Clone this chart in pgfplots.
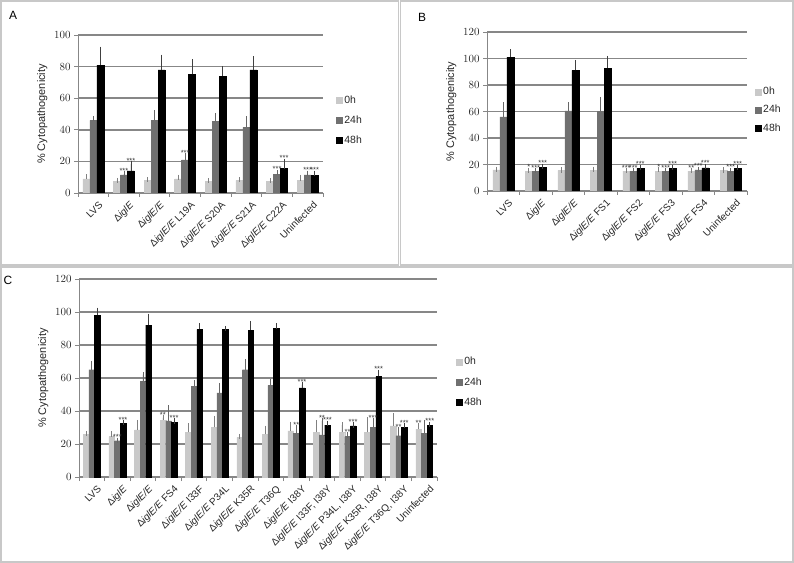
\documentclass[border=0pt]{standalone}
\usepackage{pgfplots}
\usepackage{pgfplotstable}
\pgfplotsset{compat=1.18}
\usepackage{fontspec}
\setmainfont{Liberation Sans}

\definecolor{c0}{HTML}{C9C9C9}
\definecolor{c24}{HTML}{707070}
\definecolor{c48}{HTML}{000000}
\definecolor{gridc}{HTML}{878787}
\definecolor{framec}{HTML}{C8C8C8}

\newcommand\dI{Δ\textit{iglE}}
\newcommand\dE{Δ\textit{iglE/E}}

\pgfplotstableread{
x y0 e0 s0 y24 e24 s24 y48 e48 s48
0 9 1.2 {} 46 1 {} 81 10 {}
1 7.5 0.5 {} 11.5 0.5 *** 14 4.5 ***
2 8 0.4 {} 46 5 {} 78 8 {}
3 9 1 {} 21 2.5 *** 75 8 {}
4 7.5 0.3 {} 45.5 3.5 {} 74 4.5 {}
5 8 0.3 {} 41.5 5.5 {} 78 7 {}
6 7.5 0.3 {} 12 1 *** 15.5 4.5 ***
7 8 1.5 {} 11.5 1 *** 11 1.5 ***
}\tabA

\pgfplotstableread{
x y0 e0 s0 y24 e24 s24 y48 e48 s48
0 16 0.5 {} 56 9 {} 101 4 {}
1 15 0.5 * 15 0.3 *** 18 0.5 ***
2 15.5 0.4 {} 60.5 4.5 {} 91 6 {}
3 15.5 1 {} 60 9 {} 92.5 7.5 {}
4 15 0.4 *** 15 0.3 *** 17 0.8 ***
5 15 1 * 15 0.3 *** 17 1 ***
6 15 0.4 ** 16 0.3 *** 17.5 1 ***
7 15.5 0.4 {} 15 0.5 *** 17 0.8 ***
}\tabB

\pgfplotstableread{
x y0 e0 s0 y24 e24 s24 y48 e48 s48
0 26 0.3 {} 65 4 {} 98 3 {}
1 24.5 1.5 {} 22 0.3 *** 32.5 0.3 ***
2 28.5 4.5 {} 58 4 {} 92 5.5 {}
3 34.5 1.5 ** 34 8 {} 33 1 ***
4 27 4 {} 55 2 {} 89.5 2 {}
5 30 5.5 {} 51 4.5 {} 89.5 0.5 {}
6 24 0.5 {} 65 5 {} 89 4 {}
7 26 3.5 {} 55.5 2.5 {} 90 1.5 {}
8 28 4 {} 26.5 3.5 ** 54 2 ***
9 27 6 {} 25.5 8.5 ** 31.5 1 ***
10 27 4.5 {} 24.5 1 ** 31 0.5 ***
11 27 7.5 {} 30 4 *** 61 2.5 ***
12 31 6 {} 25 3.5 ** 30 1 ***
13 29 2 ** 26.5 6.5 {} 31.5 0.5 ***
}\tabC

\pgfplotsset{
  panel/.style={
    scale only axis, axis lines*=left, ybar=0pt, ymin=0,
    xtick=data, tick align=outside,
    major tick length=4bp, minor tick length=4bp,
    major x tick style={draw=none},
    minor x tick style={gridc, line width=0.9bp},
    ytick style={gridc, line width=0.9bp},
    axis line style={gridc, line width=0.9bp},
    ymajorgrids, major grid style={gridc, line width=1.5bp},
    tick label style={font=\fontsize{10.5}{12}\selectfont, text=black!85},
    xticklabel style={xshift=5bp, yshift=-2bp, rotate=45, anchor=north east, inner sep=1pt,
      font=\fontsize{10}{12}\selectfont},
    ylabel={\% Cytopathogenicity},
    ylabel style={font=\fontsize{11}{12}\selectfont, text=black!85},
    legend style={draw=none, fill=none, anchor=west, font=\fontsize{10.5}{12}\selectfont, inner sep=0pt, row sep=7bp, text=black!85},
    legend cell align=left,
    legend image code/.code={\fill[##1,/tikz/.cd] (0bp,-2.9bp) rectangle (5.8bp,2.9bp);},
  },
  stars/.style={
    visualization depends on={\thisrow{#1} \as \myerr},
    point meta=explicit symbolic,
    nodes near coords={\pgfplotspointmeta},
    every node near coord/.append style={anchor=south, inner sep=0.3bp,
      font=\fontsize{7.5}{7.5}\selectfont, text=black!80, yshift={\myerr*\yscl*1bp}},
  },
  b0/.style={fill=c0, draw=c0, stars=e0, error bars/.cd, y dir=plus, y explicit,
    error bar style={black!50, line width=0.7bp}, error mark options={black!50, mark size=2.6bp, line width=0.7bp}},
  b24/.style={fill=c24, draw=c24, stars=e24, error bars/.cd, y dir=plus, y explicit,
    error bar style={black!60, line width=0.7bp}, error mark options={black!60, mark size=2.6bp, line width=0.7bp}},
  b48/.style={fill=c48, draw=c48, stars=e48, error bars/.cd, y dir=plus, y explicit,
    error bar style={black!75, line width=0.7bp}, error mark options={black!75, mark size=2.6bp, line width=0.7bp}},
}

\begin{document}
\begin{tikzpicture}
\useasboundingbox (0,0) rectangle (794bp,563bp);
\draw[framec, line width=1.3bp] (1bp,298bp) rectangle (398.5bp,562bp);
\draw[framec, line width=1.3bp] (400.5bp,298bp) rectangle (793bp,562bp);
\draw[framec, line width=1.3bp] (1bp,1bp) rectangle (793bp,296bp);
\node[font=\fontsize{12}{12}\selectfont] at (13bp,548bp) {A};
\node[font=\fontsize{12}{12}\selectfont] at (422bp,546bp) {B};
\node[font=\fontsize{12}{12}\selectfont] at (8bp,283bp) {C};

% Panel A
\def\yscl{1.58}
\begin{axis}[panel, at={(78bp,370bp)}, anchor=south west,
  width=245bp, height=158bp, xmin=-0.5, xmax=7.5, ymax=100,
  ytick={0,20,...,100}, minor xtick={-0.5,0.5,...,7.5}, bar width=7bp,
  xticklabels={LVS, \dI, \dE, \dE{} L19A, \dE{} S20A, \dE{} S21A, \dE{} C22A, Uninfected},
  legend style={at={(1.053,0.46)}}]
\addplot[b0] table[x=x, y=y0, y error=e0, meta=s0] {\tabA};
\addplot[b24] table[x=x, y=y24, y error=e24, meta=s24] {\tabA};
\addplot[b48] table[x=x, y=y48, y error=e48, meta=s48] {\tabA};
\legend{0h,24h,48h}
\end{axis}

% Panel B
\def\yscl{1.325}
\begin{axis}[panel, at={(487bp,372bp)}, anchor=south west,
  width=260bp, height=159bp, xmin=-0.5, xmax=7.5, ymax=120,
  ytick={0,20,...,120}, minor xtick={-0.5,0.5,...,7.5}, bar width=7bp,
  xticklabels={LVS, \dI, \dE, \dE{} FS1, \dE{} FS2, \dE{} FS3, \dE{} FS4, Uninfected},
  legend style={at={(1.03,0.51)}, row sep=5bp}]
\addplot[b0] table[x=x, y=y0, y error=e0, meta=s0] {\tabB};
\addplot[b24] table[x=x, y=y24, y error=e24, meta=s24] {\tabB};
\addplot[b48] table[x=x, y=y48, y error=e48, meta=s48] {\tabB};
\legend{0h,24h,48h}
\end{axis}

% Panel C
\def\yscl{1.647}
\begin{axis}[panel, at={(79bp,86bp)}, anchor=south west,
  width=358bp, height=198bp, xmin=-0.5, xmax=13.5, ymax=120,
  ytick={0,20,...,120}, minor xtick={-0.5,0.5,...,13.5}, bar width=5.6bp,
  xticklabels={LVS, \dI, \dE, \dE{} FS4, \dE{} I33F, \dE{} P34L, \dE{} K35R, \dE{} T36Q, \dE{} I38Y,
    {\dE{} I33F, I38Y}, {\dE{} P34L, I38Y}, {\dE{} K35R, I38Y}, {\dE{} T36Q, I38Y}, Uninfected},
  legend style={at={(1.053,0.48)}}]
\addplot[b0] table[x=x, y=y0, y error=e0, meta=s0] {\tabC};
\addplot[b24] table[x=x, y=y24, y error=e24, meta=s24] {\tabC};
\addplot[b48] table[x=x, y=y48, y error=e48, meta=s48] {\tabC};
\legend{0h,24h,48h}
\end{axis}
\end{tikzpicture}
\end{document}
